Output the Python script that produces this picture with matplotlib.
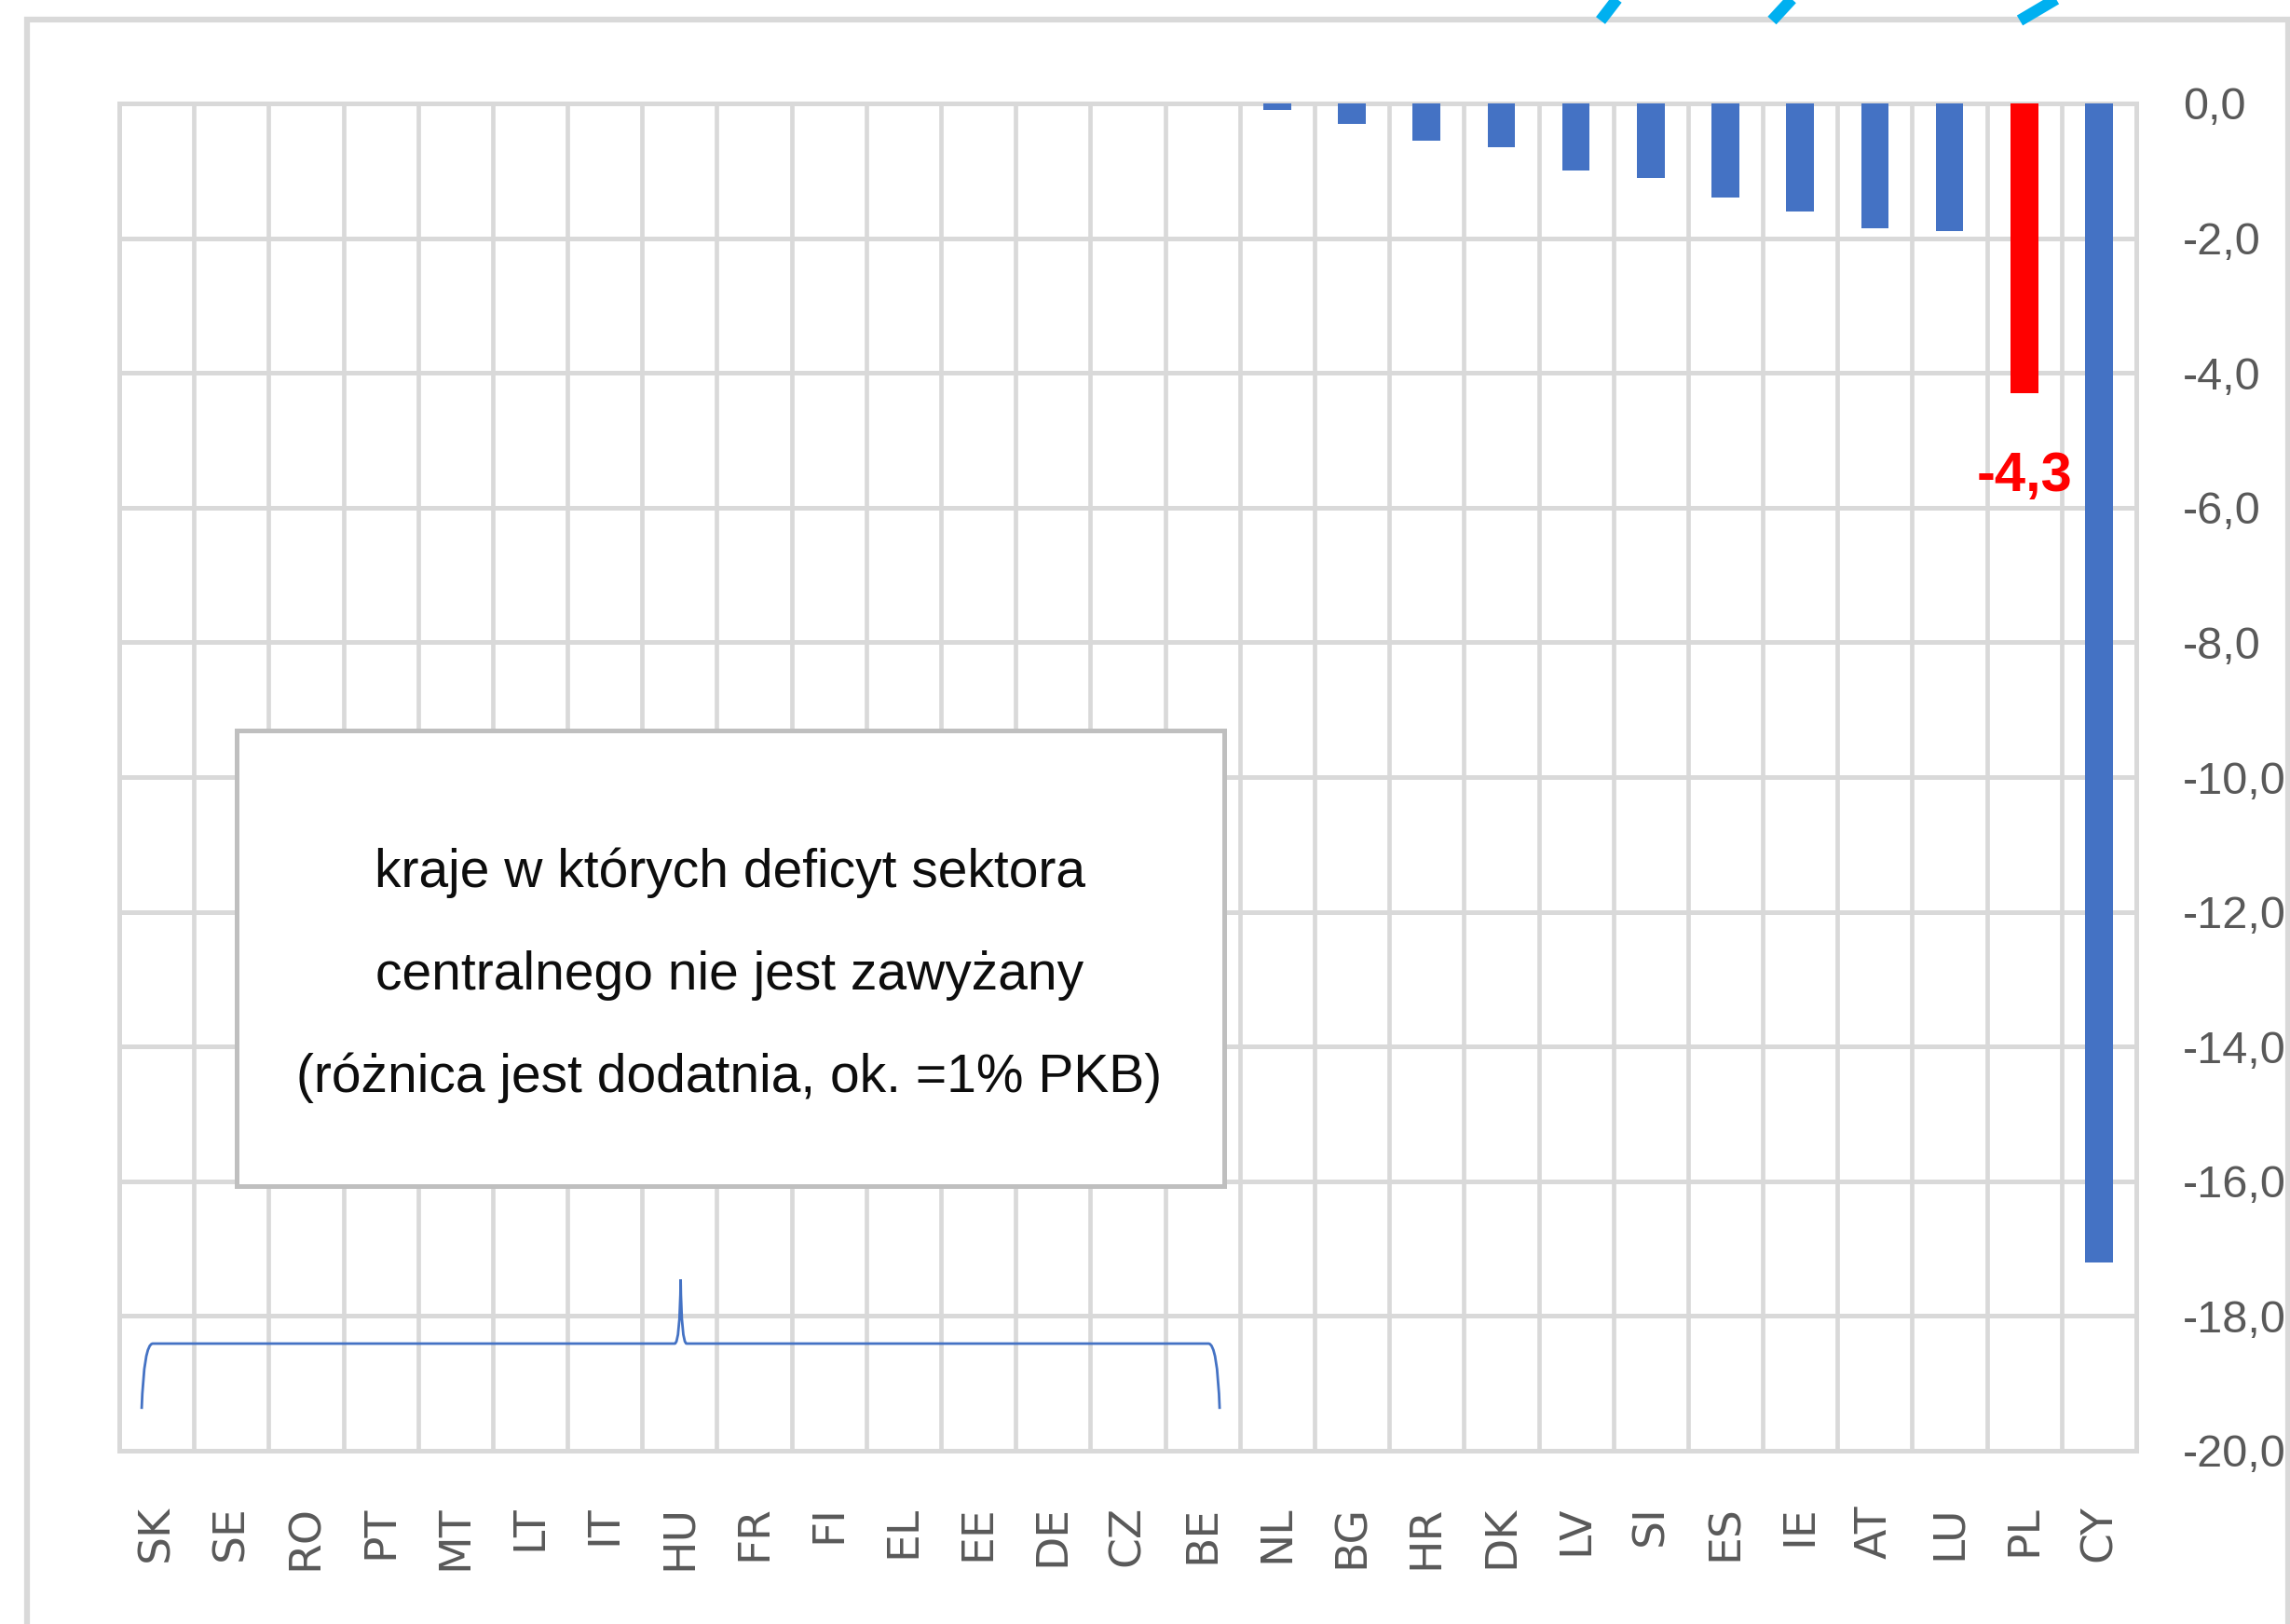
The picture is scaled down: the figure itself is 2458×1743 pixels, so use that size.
import matplotlib
matplotlib.use("Agg")
import matplotlib.pyplot as plt
from matplotlib.patches import Rectangle, PathPatch
from matplotlib.path import Path
from matplotlib.lines import Line2D
import numpy as np

# ---------------- data ----------------
countries = ["SK", "SE", "RO", "PT", "MT", "LT", "IT", "HU", "FR", "FI", "EL", "EE", "DE", "CZ", "BE",
             "NL", "BG", "HR", "DK", "LV", "SI", "ES", "IE", "AT", "LU", "PL", "CY"]
values = [0, 0, 0, 0, 0, 0, 0, 0, 0, 0, 0, 0, 0, 0, 0,
          -0.1, -0.3, -0.55, -0.65, -1.0, -1.1, -1.4, -1.6, -1.85, -1.9, -4.3, -17.2]
highlight = "PL"
highlight_label = "-4,3"
y_ticks = [0, -2, -4, -6, -8, -10, -12, -14, -16, -18, -20]
y_tick_labels = ["0,0", "-2,0", "-4,0", "-6,0", "-8,0", "-10,0", "-12,0", "-14,0",
                 "-16,0", "-18,0", "-20,0"]
box_lines = ["kraje w których deficyt sektora",
             "centralnego nie jest zawyżany",
             "(różnica jest dodatnia, ok. =1% PKB)"]
brace_first, brace_last = "SK", "BE"

# ---------------- style ----------------
W, H = 2458, 1743
BLUE = "#4472c4"
RED = "#ff0000"
GRID = "#d9d9d9"
TXT = "#595959"
FONT = "Liberation Sans"

def fx(px):
    return px / W

def fy(py):
    return 1 - py / H

fig = plt.figure(figsize=(W / 100, H / 100), dpi=100)
fig.patch.set_facecolor("white")

# decorative cyan strokes at top edge
for (x0, x1) in [(1718, 1738), (1902, 1926), (2168, 2212)]:
    fig.add_artist(Line2D([fx(x0), fx(x1)], [fy(22), fy(-4)], color="#00b0f0",
                          lw=9, solid_capstyle="butt"))

# outer frame
fig.add_artist(Rectangle((fx(29), fy(1800)), fx(2456) - fx(29), fy(21) - fy(1800),
                         transform=fig.transFigure, fill=False, ec=GRID, lw=4.5))

ax = fig.add_axes([fx(128), fy(1557), fx(2293) - fx(128), fy(111) - fy(1557)])
x = np.arange(len(countries))
colors = [RED if c == highlight else BLUE for c in countries]
ax.bar(x, values, width=0.37, color=colors, zorder=3)

ax.set_xlim(-0.5, len(countries) - 0.5)
ax.set_ylim(-20, 0)
ax.set_axisbelow(True)

ax.yaxis.tick_right()
ax.set_yticks(y_ticks)
ax.set_yticklabels(y_tick_labels, family=FONT, fontsize=35, color=TXT)
for lab in ax.get_yticklabels():
    lab.set_horizontalalignment("left")
ax.tick_params(axis="y", length=0, pad=36)

ax.set_xticks(x)
ax.set_xticklabels(countries, rotation=90, fontsize=34, color=TXT, family="DejaVu Sans", va="top")
ax.tick_params(axis="x", length=0, pad=42)
ax.set_xticks(np.arange(-0.5, len(countries), 1), minor=True)
ax.tick_params(axis="x", which="minor", length=0)

ax.grid(axis="y", which="major", color=GRID, lw=3.6)
ax.grid(axis="x", which="minor", color=GRID, lw=3.4)
for s in ax.spines.values():
    s.set_color(GRID)
    s.set_linewidth(3.6)

# red value label
pl = countries.index(highlight)
ax.annotate(highlight_label, xy=(pl, values[pl]), xytext=(0, -90), textcoords="offset pixels",
            ha="center", va="center", color=RED, fontweight="bold", family=FONT,
            fontsize=43, zorder=5)

# text box
fig.add_artist(Rectangle((fx(254), fy(1273)), fx(1314) - fx(254), fy(784) - fy(1273),
                         transform=fig.transFigure, fc="white", ec="#bfbfbf", lw=3.6, zorder=4))
for i, line in enumerate(box_lines):
    fig.text(fx(783), fy(952 + 110 * i), line, ha="center", va="baseline",
             family=FONT, fontsize=41, color="#0d0d0d", zorder=5)

# brace under the first group
i0, i1 = countries.index(brace_first), countries.index(brace_last)
xl, xr = i0 - 0.2, i1 + 0.23
xm = (xl + xr) / 2
yb, yh, yt = -19.38, -18.41, -17.46
verts = [(xl, yb), (xl + 0.03, yh), (xl + 0.15, yh),
         (xm - 0.08, yh), (xm - 0.01, yh), (xm, yt),
         (xm + 0.01, yh), (xm + 0.08, yh),
         (xr - 0.15, yh), (xr - 0.03, yh), (xr, yb)]
codes = [Path.MOVETO, Path.CURVE3, Path.CURVE3,
         Path.LINETO, Path.CURVE3, Path.CURVE3,
         Path.CURVE3, Path.CURVE3,
         Path.LINETO, Path.CURVE3, Path.CURVE3]
ax.add_patch(PathPatch(Path(verts, codes), fill=False, ec=BLUE, lw=2, zorder=4))

fig.savefig("out.png", dpi=100)
